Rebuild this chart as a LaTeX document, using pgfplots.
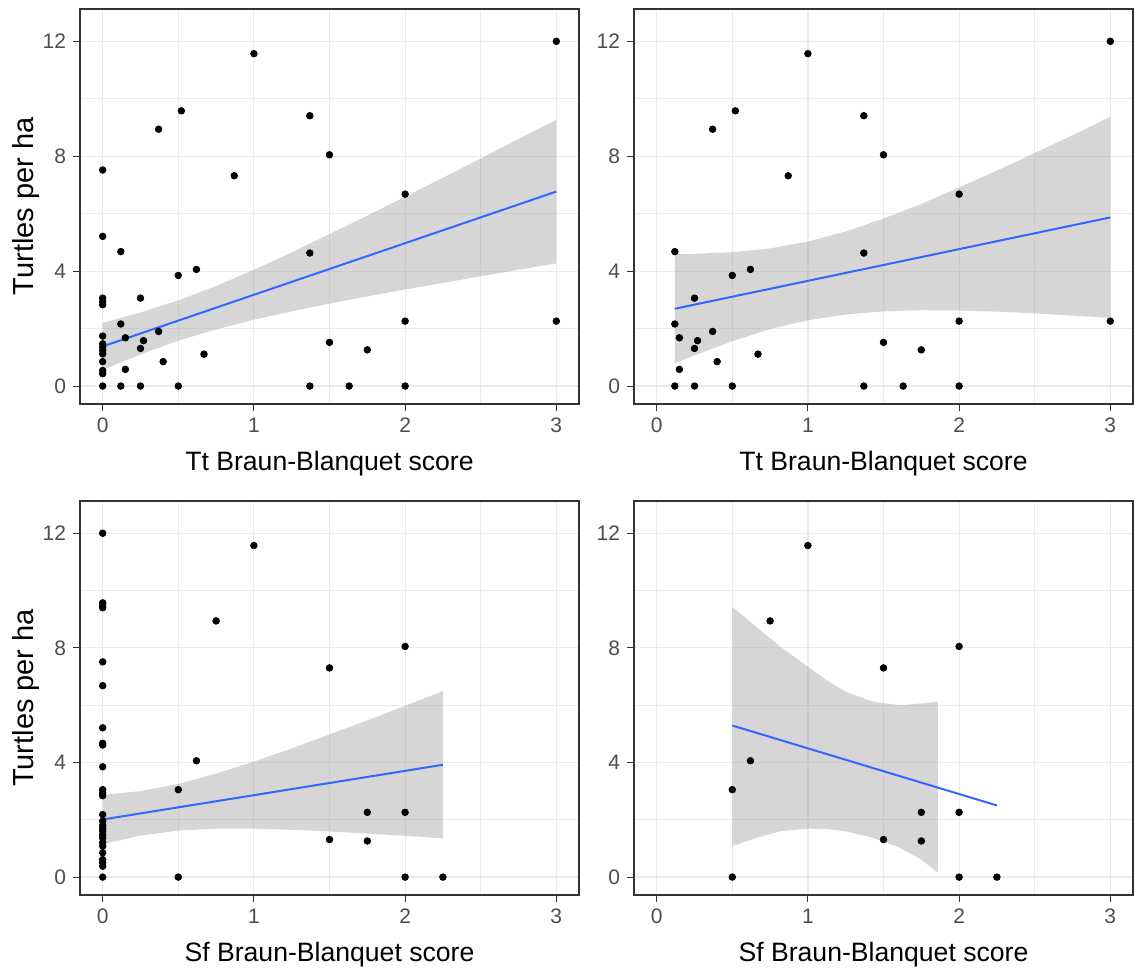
\documentclass[border=0pt]{standalone}
\usepackage{pgfplots}
\pgfplotsset{compat=1.18}
\usepackage{fontspec}
\setmainfont{Liberation Sans}
\definecolor{gridc}{RGB}{235,235,235}
\definecolor{axc}{RGB}{51,51,51}
\definecolor{tickc}{RGB}{77,77,77}
\definecolor{fitblue}{RGB}{51,102,255}
\definecolor{bandc}{RGB}{153,153,153}
\pgfplotsset{
  panel/.style={
    scale only axis, width=249.5pt, height=197.5pt,
    xmin=-0.15, xmax=3.15, ymin=-0.625, ymax=13.125,
    xtick={0,1,2,3}, ytick={0,4,8,12},
    minor xtick={0.5,1.5,2.5}, minor ytick={2,6,10},
    grid=both,
    major grid style={draw=gridc, line width=0.6pt},
    minor grid style={draw=gridc, line width=0.35pt},
    axis line style={draw=axc, line width=0.6pt},
    tick align=outside, major tick length=3.5pt, minor tick length=0pt,
    major tick style={draw=axc, line width=0.5pt},
    tick pos=left,
    tick label style={font=\fontsize{10.5}{12}\selectfont, text=tickc},
    /pgf/number format/assume math mode=true,
    every axis x label/.style={at={(axis description cs:0.5,0)}, anchor=base, yshift=-33pt,
      font=\fontsize{13.3}{16}\selectfont},
    every axis y label/.style={at={(axis description cs:0,0.5)}, xshift=-23.3pt, rotate=90, anchor=base,
      font=\fontsize{14.5}{17}\selectfont},
  },
  pts/.style={only marks, mark=*, mark size=1.65pt, black},
  band/.style={fill=bandc, fill opacity=0.4, draw=none},
  fit/.style={fitblue, line width=1pt, no marks},
}
\begin{document}
\begin{tikzpicture}
\path[use as bounding box] (0,0) rectangle (568pt,485.5pt);

% ---------- Panel 1 ----------
\begin{axis}[panel, at={(40pt,283.5pt)}, anchor=south west,
  xlabel={Tt Braun-Blanquet score}, ylabel={Turtles per ha}]
\addplot[pts] coordinates {
(3,12) (1,11.57) (0.52,9.58) (0.37,8.94) (1.37,9.41) (1.5,8.05) (0.87,7.32) (2,6.68)
(0.12,4.68) (1.37,4.63) (0.62,4.06) (0.5,3.85) (0.25,3.06) (0.12,2.16) (2,2.26) (3,2.26)
(0.37,1.9) (0.15,1.68) (0.27,1.58) (0.25,1.31) (1.5,1.52) (1.75,1.26) (0.67,1.11) (0.4,0.85)
(0.15,0.58) (0.12,0) (0.25,0) (0.5,0) (1.37,0) (1.63,0) (2,0)
(0,7.52) (0,5.21) (0,3.06) (0,2.94) (0,2.83) (0,1.74) (0,1.47) (0,1.36) (0,1.24) (0,1.12)
(0,0.85) (0,0.54) (0,0.43) (0,0)
};
\addplot[band] coordinates {
(0,2.20) (0.25,2.56) (0.5,2.98) (0.75,3.48) (1,4.05) (1.25,4.65) (1.5,5.29) (1.75,5.93)
(2,6.59) (2.25,7.25) (2.5,7.92) (2.75,8.60) (3,9.27)
(3,4.27) (2.75,4.05) (2.5,3.82) (2.25,3.59) (2,3.36) (1.75,3.12) (1.5,2.87) (1.25,2.60)
(1,2.31) (0.75,1.97) (0.5,1.58) (0.25,1.10) (0,0.56)
} -- cycle;
\addplot[fit] coordinates {(0,1.38) (3,6.77)};
\end{axis}

% ---------- Panel 2 ----------
\begin{axis}[panel, at={(317pt,283.5pt)}, anchor=south west,
  xlabel={Tt Braun-Blanquet score}]
\addplot[pts] coordinates {
(3,12) (1,11.57) (0.52,9.58) (0.37,8.94) (1.37,9.41) (1.5,8.05) (0.87,7.32) (2,6.68)
(0.12,4.68) (1.37,4.63) (0.62,4.06) (0.5,3.85) (0.25,3.06) (0.12,2.16) (2,2.26) (3,2.26)
(0.37,1.9) (0.15,1.68) (0.27,1.58) (0.25,1.31) (1.5,1.52) (1.75,1.26) (0.67,1.11) (0.4,0.85)
(0.15,0.58) (0.12,0) (0.25,0) (0.5,0) (1.37,0) (1.63,0) (2,0)
};
\addplot[band] coordinates {
(0.12,4.59) (0.25,4.60) (0.5,4.66) (0.75,4.79) (1,5.03) (1.25,5.38) (1.5,5.83) (1.75,6.34)
(2,6.91) (2.25,7.50) (2.5,8.11) (2.75,8.73) (3,9.37)
(3,2.37) (2.75,2.45) (2.5,2.53) (2.25,2.59) (2,2.63) (1.75,2.64) (1.5,2.60) (1.25,2.49)
(1,2.29) (0.75,1.98) (0.5,1.56) (0.25,1.07) (0.12,0.79)
} -- cycle;
\addplot[fit] coordinates {(0.12,2.69) (3,5.87)};
\end{axis}

% ---------- Panel 3 ----------
\begin{axis}[panel, at={(40pt,38pt)}, anchor=south west, height=197pt,
  xlabel={Sf Braun-Blanquet score}, ylabel={Turtles per ha}]
\addplot[pts] coordinates {
(0,12) (0,9.57) (0,9.48) (0,9.40) (0,7.51) (0,6.68) (0,5.21) (0,4.67) (0,4.61) (0,3.85)
(0,3.05) (0,2.93) (0,2.84) (0,2.18) (0,1.95) (0,1.8) (0,1.7) (0,1.6) (0,1.47) (0,1.36)
(0,1.2) (0,1.08) (0,0.85) (0,0.61) (0,0.5) (0,0.38) (0,0)
(1,11.57) (0.75,8.94) (2,8.05) (1.5,7.30) (0.62,4.06) (0.5,3.05) (1.75,2.26) (2,2.26)
(1.5,1.31) (1.75,1.26) (0.5,0) (2,0) (2.25,0)
};
\addplot[band] coordinates {
(0,2.87) (0.25,3.00) (0.5,3.25) (0.75,3.61) (1,4.03) (1.25,4.49) (1.5,4.98) (1.75,5.47)
(2,5.98) (2.25,6.49)
(2.25,1.35) (2,1.44) (1.75,1.52) (1.5,1.59) (1.25,1.65) (1,1.69) (0.75,1.69) (0.5,1.62)
(0.25,1.45) (0,1.15)
} -- cycle;
\addplot[fit] coordinates {(0,2.01) (2.25,3.92)};
\end{axis}

% ---------- Panel 4 ----------
\begin{axis}[panel, at={(317pt,38pt)}, anchor=south west, height=197pt,
  xlabel={Sf Braun-Blanquet score}]
\addplot[pts] coordinates {
(1,11.57) (0.75,8.94) (2,8.05) (1.5,7.30) (0.62,4.06) (0.5,3.05) (1.75,2.26) (2,2.26)
(1.5,1.31) (1.75,1.26) (0.5,0) (2,0) (2.25,0)
};
\addplot[band] coordinates {
(0.5,9.43) (0.66,8.73) (0.82,8.03) (1,7.34) (1.125,6.87) (1.25,6.47) (1.43,6.12) (1.61,6.0)
(1.75,6.06) (1.86,6.12)
(1.86,0.15) (1.75,0.61) (1.61,1.02) (1.43,1.37) (1.25,1.6) (1.125,1.68) (1,1.69) (0.82,1.6)
(0.66,1.37) (0.5,1.08)
} -- cycle;
\addplot[fit] coordinates {(0.5,5.29) (2.25,2.50)};
\end{axis}
\end{tikzpicture}
\end{document}
